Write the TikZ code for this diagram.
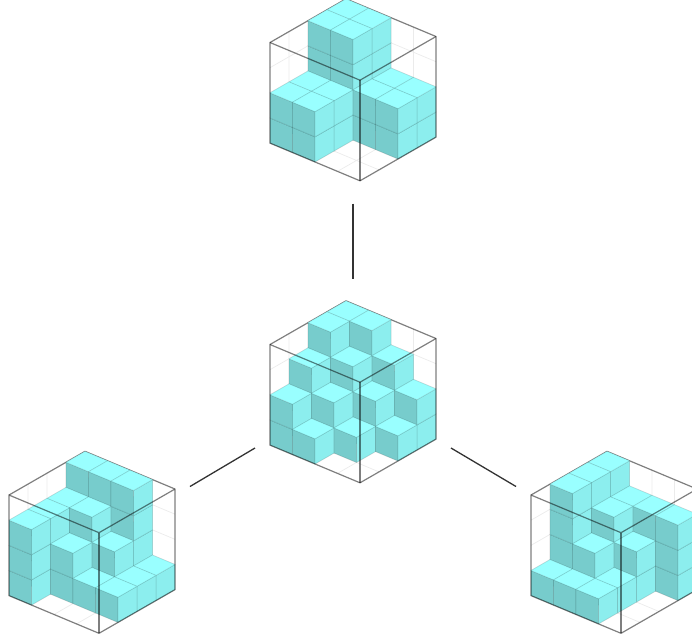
\documentclass[tikz,border=0pt]{standalone}
\definecolor{topface}{HTML}{99FFFF}
\definecolor{leftface}{HTML}{77CCCC}
\definecolor{rightface}{HTML}{8CEEEE}
\definecolor{gridline}{HTML}{EBEBEB}
\tikzset{
  isoaxes/.style={x={(-22.5pt,9.42pt)},y={(19pt,10.92pt)},z={(0pt,25.15pt)}},
  faceedge/.style={draw=black,draw opacity=0.1,line width=0.8pt,line join=round},
  topside/.style={faceedge,fill=topface},
  leftside/.style={faceedge,fill=leftface},
  rightside/.style={faceedge,fill=rightface},
  boxline/.style={draw=black,draw opacity=0.5,line width=1.2pt,line join=round},
  faintgrid/.style={draw=gridline,line width=0.7pt},
  linkline/.style={draw=black,draw opacity=0.8,line width=1.3pt}
}
% one unit cube whose nearest lower corner is (i,j,k)
\newcommand\onecube[3]{%
  \pgfmathtruncatemacro\ia{#1+1}\pgfmathtruncatemacro\ja{#2+1}\pgfmathtruncatemacro\ka{#3+1}%
  \path[leftside] (#1,#2,#3) -- (\ia,#2,#3) -- (\ia,#2,\ka) -- (#1,#2,\ka) -- cycle;
  \path[rightside] (#1,#2,#3) -- (#1,\ja,#3) -- (#1,\ja,\ka) -- (#1,#2,\ka) -- cycle;
  \path[topside] (#1,#2,\ka) -- (\ia,#2,\ka) -- (\ia,\ja,\ka) -- (#1,\ja,\ka) -- cycle;
}
% #1 = x, #2 = y of the bottom front corner in px, #3 = rows of heights, back to front
\newcommand\voxelfig[3]{%
\begin{scope}[shift={(#1pt,-#2pt)},isoaxes]
  \foreach \t in {1,2,3}{
    \draw[faintgrid] (\t,0,0) -- (\t,4,0) (0,\t,0) -- (4,\t,0);
    \draw[faintgrid] (4,\t,0) -- (4,\t,4) (4,0,\t) -- (4,4,\t);
    \draw[faintgrid] (\t,4,0) -- (\t,4,4) (0,4,\t) -- (4,4,\t);
  }
  \draw[boxline] (4,0,4) -- (4,4,4) -- (0,4,4);
  \foreach \i/\hs in {#3}{
    \foreach \h [count=\c from 0] in \hs {
      \pgfmathtruncatemacro\j{3-\c}
      \ifnum\h>0
        \pgfmathtruncatemacro\kt{\h-1}
        \foreach \k in {0,...,\kt}{\onecube{\i}{\j}{\k}}
      \fi
    }
  }
  \draw[boxline] (4,0,0) -- (0,0,0) -- (0,4,0) -- (0,4,4) -- (0,0,4) -- (4,0,4) -- cycle;
  \draw[boxline] (0,0,0) -- (0,0,4);
\end{scope}}
\begin{document}
\begin{tikzpicture}[x=1pt,y=-1pt]
  \useasboundingbox (0,0) rectangle (692,640);
  \clip (0,0) rectangle (692,640);
  \begin{scope}[x=1cm,y=1cm]
  \voxelfig{360}{180.8}{3/{4,4,2,2},2/{4,4,2,2},1/{2,2,0,0},0/{2,2,0,0}}
  \voxelfig{360}{482.8}{3/{4,4,3,2},2/{4,3,2,1},1/{3,2,1,0},0/{2,1,0,0}}
  \voxelfig{99}{633.3}{3/{4,3,3,3},2/{4,3,2,0},1/{4,2,1,0},0/{1,1,1,0}}
  \voxelfig{621}{633.3}{3/{4,4,4,1},2/{3,3,2,1},1/{3,2,1,1},0/{3,0,0,0}}
  \end{scope}
  \coordinate (upperA) at (353,203.5);
  \coordinate (upperB) at (353,278.5);
  \coordinate (leftA) at (190,486.5);
  \coordinate (leftB) at (255,448);
  \coordinate (rightA) at (451,448);
  \coordinate (rightB) at (516,486.5);
  \draw[linkline] (upperA) -- (upperB);
  \draw[linkline] (leftA) -- (leftB);
  \draw[linkline] (rightA) -- (rightB);
\end{tikzpicture}
\end{document}
